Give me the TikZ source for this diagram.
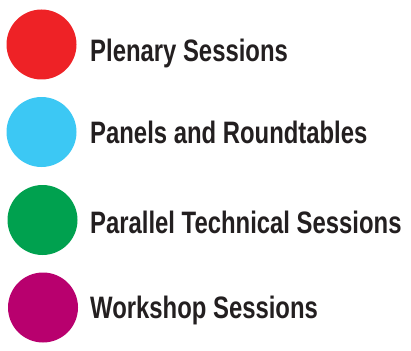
\documentclass[tikz,border=0pt]{standalone}
\usepackage{fontspec}
\newfontfamily\legendfont{Liberation Sans}[FakeStretch=0.77]
\usepackage{tikz}
\definecolor{plenaryred}{HTML}{EE2226}
\definecolor{panelcyan}{HTML}{3CC8F4}
\definecolor{parallelgreen}{HTML}{00A14F}
\definecolor{workshopmagenta}{HTML}{B8006E}
\definecolor{legendtext}{HTML}{231F20}

\begin{document}
\begin{tikzpicture}[x=1pt, y=-1pt]
    \tikzset{dot/.style = {shape=circle, fill=#1, draw=none, minimum size=70pt, inner sep=0pt}}
    \tikzset{caption/.style = {anchor=base west, inner sep=0pt, text=legendtext, font=\legendfont\bfseries\fontsize{31}{31}\selectfont}}

    \useasboundingbox (0,0) rectangle (411,350);

    % dots
    \node[dot=plenaryred] (plenary) at (41.5,44.5) {};
    \node[dot=panelcyan] (panels) at (41.5,132) {};
    \node[dot=parallelgreen] (parallel) at (42.5,220) {};
    \node[dot=workshopmagenta] (workshop) at (43,307.5) {};

    % captions
    \node[caption] (plenarytext) at (90,62) {Plenary Sessions};
    \node[caption] (panelstext) at (90,143) {Panels and Roundtables};
    \node[caption] (paralleltext) at (90,233) {Parallel Technical Sessions};
    \node[caption] (workshoptext) at (90,318) {Workshop Sessions};
\end{tikzpicture}
\end{document}
